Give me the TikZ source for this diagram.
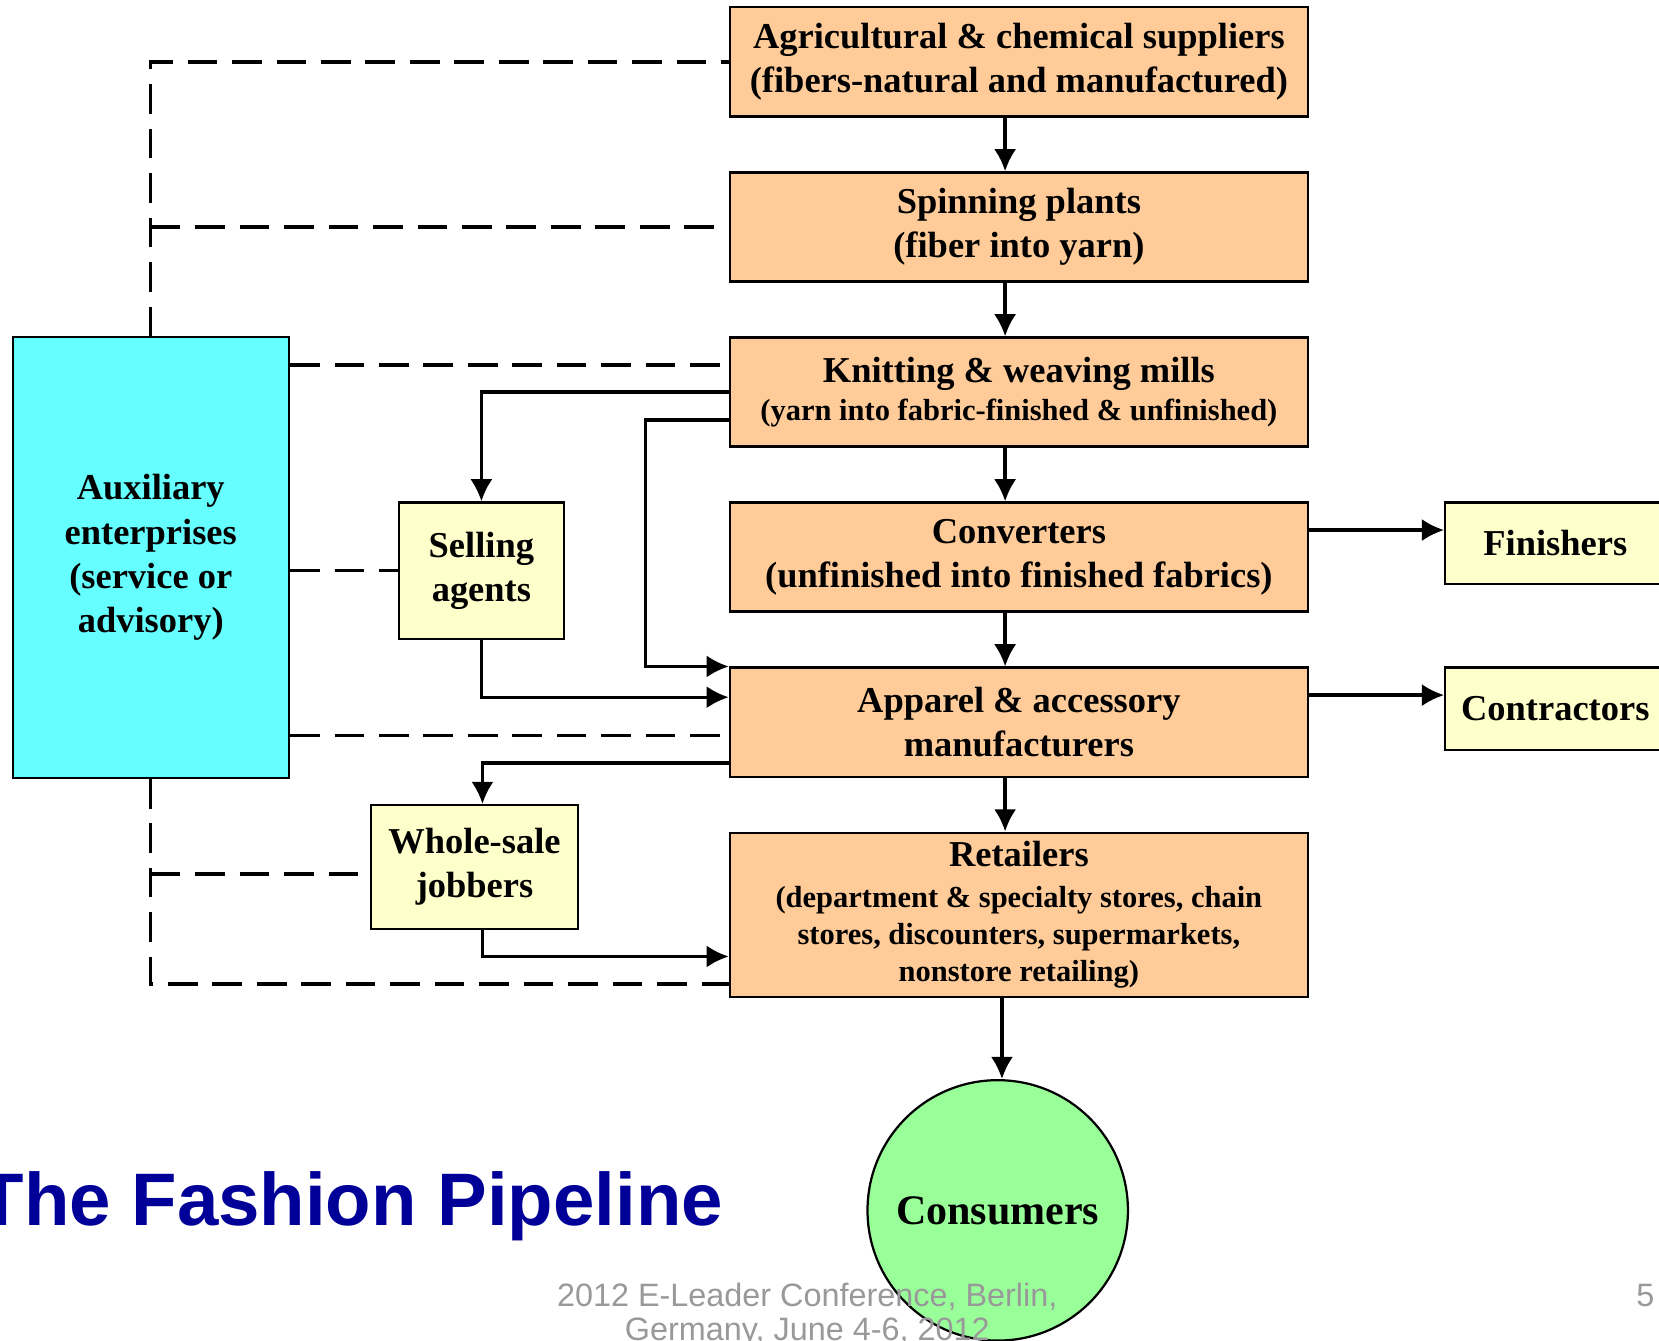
\documentclass[tikz,border=0pt]{standalone}
\usepackage{fontspec}
\setmainfont{Liberation Serif}
\newfontfamily\arialfont{Liberation Sans}
\usetikzlibrary{arrows.meta}

\definecolor{peach}{HTML}{FFCC99}
\definecolor{paleyellow}{HTML}{FFFFCC}
\definecolor{auxcyan}{HTML}{66FFFF}
\definecolor{consgreen}{HTML}{99FF99}
\definecolor{titleblue}{HTML}{000099}
\definecolor{footgray}{HTML}{999999}

\newcommand{\boxfont}{\fontsize{9.8}{11.9}\selectfont\bfseries}
\newcommand{\subfont}{\fontsize{8.2}{9.9}\selectfont\bfseries}

\tikzset{
  stage/.style={draw, fill=peach, line width=0.6pt, minimum width=5.46cm,
    minimum height=1.03cm, inner sep=0pt, align=center, font=\boxfont},
  side/.style={draw, fill=paleyellow, line width=0.6pt, inner sep=0pt,
    align=center, font=\boxfont},
  flow/.style={line width=0.9pt, -{Latex[length=2.1mm,width=2.1mm]}},
  dashlink/.style={line width=0.9pt, dash pattern=on 0.28cm off 0.14cm},
}

\begin{document}
\begin{tikzpicture}[x=0.01cm, y=-0.01cm]
    \useasboundingbox (0,0) rectangle (1568,1267);

    % Pipeline stages
    \node[stage] (agri) at (963,58.5) {Agricultural \& chemical suppliers\\(fibers-natural and manufactured)};
    \node[stage] (spin) at (963,214.5) {Spinning plants\\(fiber into yarn)};
    \node[stage] (knit) at (963,370.5) {Knitting \& weaving mills\\[-1.7pt]\subfont (yarn into fabric-finished \& unfinished)};
    \node[stage] (conv) at (963,526.5) {Converters\\(unfinished into finished fabrics)};
    \node[stage] (app) at (963,682.5) {Apparel \& accessory\\manufacturers};
    \node[stage, minimum height=1.55cm, font=\subfont] (ret) at (963,864.5) {{\boxfont Retailers}\\[1.1pt](department \& specialty stores, chain\\stores, discounters, supermarkets,\\nonstore retailing)};

    % Side boxes
    \node[side, minimum width=2.08cm, minimum height=0.77cm] (fin) at (1470,513.5) {Finishers};
    \node[side, minimum width=2.08cm, minimum height=0.78cm] (contr) at (1470,670) {Contractors};
    \node[side, minimum width=1.56cm, minimum height=1.29cm] (sell) at (455,539.5) {Selling\\agents};
    \node[side, minimum width=1.95cm, minimum height=1.17cm] (whole) at (448.5,819.5) {Whole-sale\\jobbers};
    \node[draw, fill=auxcyan, line width=0.6pt, minimum width=2.61cm, minimum height=4.16cm,
        align=center, font=\boxfont] (aux) at (142.5,527) {Auxiliary\\enterprises\\(service or\\advisory)};
    \node[circle, draw, fill=consgreen, line width=0.6pt, minimum size=2.46cm, inner sep=0pt,
        font=\fontsize{11.3}{13}\selectfont\bfseries] (cons) at (943,1144) {Consumers};

    % Main chain
    \draw[flow] ([xshift=-0.13cm]agri.south) -- ([xshift=-0.13cm]spin.north);
    \draw[flow] ([xshift=-0.13cm]spin.south) -- ([xshift=-0.13cm]knit.north);
    \draw[flow] ([xshift=-0.13cm]knit.south) -- ([xshift=-0.13cm]conv.north);
    \draw[flow] ([xshift=-0.13cm]conv.south) -- ([xshift=-0.13cm]app.north);
    \draw[flow] ([xshift=-0.13cm]app.south) -- ([xshift=-0.13cm]ret.north);
    \draw[flow] ([xshift=0.04cm]cons.north |- ret.south) -- ([xshift=0.04cm]cons.north);

    % Finishers and contractors
    \coordinate (convout) at ([yshift=0.255cm]conv.east);
    \draw[flow] (convout) -- (convout -| fin.west);
    \coordinate (appright) at ([yshift=0.255cm]app.east);
    \draw[flow] (appright) -- (appright -| contr.west);

    % Through selling agents and jobbers
    \draw[flow] (knit.west) -| (sell.north);
    \coordinate (knitout) at ([yshift=-0.265cm]knit.west);
    \draw[flow] (knitout) -- ++(-79,0) |- (app.north west);
    \coordinate (sellin) at ([yshift=0.235cm]app.west);
    \draw[flow] (sell.south) |- (sellin);
    \coordinate (appout) at ([yshift=-0.385cm]app.west);
    \draw[flow] (appout) -| ([xshift=0.075cm]whole.north);
    \coordinate (jobin) at ([yshift=-0.395cm]ret.west);
    \draw[flow] ([xshift=0.075cm]whole.south) |- (jobin);

    % Advisory links (dashed)
    \draw[dashlink] (aux.north) |- (agri.west);
    \draw[dashlink] (aux.north |- spin.west) -- (spin.west);
    \coordinate (knitadv) at ([yshift=0.255cm]knit.west);
    \draw[dashlink] (aux.east |- knitadv) -- (knitadv);
    \draw[dashlink] (aux.east |- sell.west) -- (sell.west);
    \coordinate (appadv) at ([yshift=-0.125cm]app.west);
    \draw[dashlink] (aux.east |- appadv) -- (appadv);
    \coordinate (retadv) at ([yshift=-0.655cm]ret.west);
    \draw[dashlink] (aux.south) |- (retadv);
    \coordinate (jobadv) at ([yshift=-0.065cm]whole.west);
    \draw[dashlink] (aux.south |- jobadv) -- (jobadv);

    % Title and footer
    \node[anchor=base east, inner sep=0pt, text=titleblue,
        font=\arialfont\fontsize{20}{24}\selectfont\bfseries] (title) at (684,1158) {The Fashion Pipeline};
    \node[anchor=base, inner sep=0pt, text=footgray, align=center,
        font=\arialfont\fontsize{8.7}{9.2}\selectfont] (foot) at (763,1267) {2012 E-Leader Conference, Berlin,\\Germany, June 4-6, 2012};
    \node[anchor=base west, inner sep=0pt, text=footgray,
        font=\arialfont\fontsize{8.7}{9.2}\selectfont] (pagenum) at (1546,1235) {5};

\end{tikzpicture}
\end{document}
